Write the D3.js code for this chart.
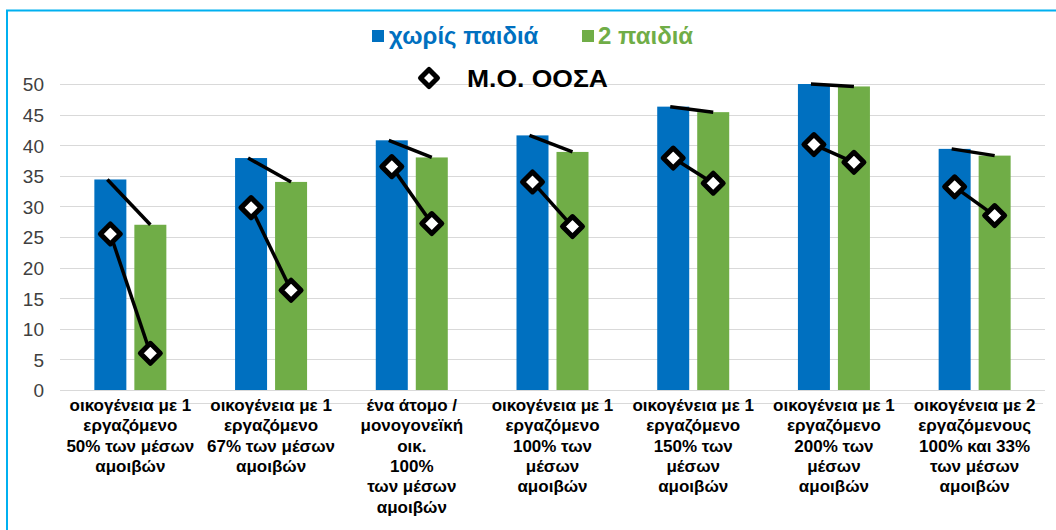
<!DOCTYPE html>
<html><head><meta charset="utf-8">
<script src="https://cdn.jsdelivr.net/npm/d3@7"></script>
<style>
html,body{margin:0;padding:0;background:#fff;}
svg{display:block;font-family:"Liberation Sans",Arial,sans-serif;}
</style></head>
<body>
<svg id="chart" width="1056" height="530"></svg>
<script>
const categories = [
  ["οικογένεια με 1","εργαζόμενο","50% των μέσων","αμοιβών"],
  ["οικογένεια με 1","εργαζόμενο","67% των μέσων","αμοιβών"],
  ["ένα άτομο /","μονογονεϊκή","οικ.","100%","των μέσων","αμοιβών"],
  ["οικογένεια με 1","εργαζόμενο","100% των","μέσων","αμοιβών"],
  ["οικογένεια με 1","εργαζόμενο","150% των","μέσων","αμοιβών"],
  ["οικογένεια με 1","εργαζόμενο","200% των","μέσων","αμοιβών"],
  ["οικογένεια με 2","εργαζόμενους","100% και 33%","των μέσων","αμοιβών"]
];
const seriesNames = ["χωρίς παιδιά", "2 παιδιά"];
const noChildren = [34.4, 37.9, 40.8, 41.6, 46.3, 50.0, 39.4];
const twoChildren = [27.0, 34.0, 38.0, 38.9, 45.4, 49.6, 38.3];
const oecdNoChildren = [25.5, 29.8, 36.5, 34.0, 37.9, 40.1, 33.2];
const oecdTwoChildren = [6.0, 16.3, 27.2, 26.7, 33.8, 37.2, 28.5];
const oecdName = "Μ.Ο. ΟΟΣΑ";
const yTicks = [0,5,10,15,20,25,30,35,40,45,50];

const colors = ["#0070C0", "#70AD47"];
const svg = d3.select("#chart");

// frame
svg.append("path").attr("d","M7,540 L7,10.5 L1070,10.5")
  .attr("fill","none").attr("stroke","#00B0F0").attr("stroke-width",2);

const idx = categories.map((d,i)=>i);
const x0 = d3.scaleBand().domain(idx).range([60,1045]).padding(0);
const step = x0.step();
const groupW = 72;
const x1 = d3.scaleBand().domain([0,1]).range([(step-groupW)/2,(step+groupW)/2]).paddingInner(0.2);
const y = d3.scaleLinear().domain([0,50]).range([390,84]);

// gridlines
svg.append("g").selectAll("line").data(yTicks).join("line")
  .attr("x1",60).attr("x2",1045)
  .attr("y1",d=>Math.round(y(d))+0.5).attr("y2",d=>Math.round(y(d))+0.5)
  .attr("stroke","#d9d9d9").attr("stroke-width",1);
// secondary axis line below
svg.append("line").attr("x1",70).attr("x2",1043).attr("y1",403.5).attr("y2",403.5)
  .attr("stroke","#d9d9d9").attr("stroke-width",1);

// y axis
const yAxis = d3.axisLeft(y).tickValues(yTicks).tickSize(0).tickPadding(0);
const gy = svg.append("g").attr("transform","translate(44,0)").call(yAxis);
gy.select(".domain").remove();
gy.selectAll("text").attr("font-size",19).attr("fill","#404040")
  .attr("font-family","Liberation Sans, Arial, sans-serif").attr("dy","0.36em");

// bars
const series = [noChildren, twoChildren];
series.forEach((vals,s)=>{
  svg.append("g").selectAll("rect").data(vals).join("rect")
    .attr("x",(d,i)=>x0(i)+x1(s))
    .attr("width",x1.bandwidth())
    .attr("y",d=>y(d))
    .attr("height",d=>y(0)-y(d))
    .attr("fill",colors[s]);
});

const cx = (i,s)=> x0(i)+x1(s)+x1.bandwidth()/2;

// top connecting lines
svg.append("g").selectAll("line").data(idx).join("line")
  .attr("x1",i=>cx(i,0)-3).attr("y1",i=>y(noChildren[i]))
  .attr("x2",i=>cx(i,1)).attr("y2",i=>y(twoChildren[i]))
  .attr("stroke","#000").attr("stroke-width",3.5);

// OECD lines
svg.append("g").selectAll("line").data(idx).join("line")
  .attr("x1",i=>cx(i,0)).attr("y1",i=>y(oecdNoChildren[i]))
  .attr("x2",i=>cx(i,1)).attr("y2",i=>y(oecdTwoChildren[i]))
  .attr("stroke","#000").attr("stroke-width",3.5);

const diamond = (r)=>`M0,${-r} L${r},0 L0,${r} L${-r},0 Z`;
const pts = [];
idx.forEach(i=>{ pts.push([cx(i,0),oecdNoChildren[i]]); pts.push([cx(i,1),oecdTwoChildren[i]]); });
svg.append("g").selectAll("path").data(pts).join("path")
  .attr("d",diamond(10))
  .attr("transform",d=>`translate(${d[0]},${y(d[1])})`)
  .attr("fill","#fff").attr("stroke","#000").attr("stroke-width",5).attr("stroke-linejoin","round");

// category labels
const gl = svg.append("g");
categories.forEach((lines,i)=>{
  const t = gl.append("text").attr("text-anchor","middle")
    .attr("font-size",17).attr("font-weight","bold").attr("fill","#000");
  lines.forEach((ln,k)=>{
    t.append("tspan").attr("x",x0(i)+step/2).attr("y",411+k*20.3).text(ln);
  });
});

// legend
const lg = svg.append("g");
lg.append("rect").attr("x",372).attr("y",30).attr("width",12).attr("height",12).attr("fill",colors[0]);
lg.append("text").attr("x",389).attr("y",43.5).attr("font-size",24).attr("font-weight","bold")
  .attr("fill",colors[0]).text(seriesNames[0]);
lg.append("rect").attr("x",582).attr("y",30).attr("width",12).attr("height",12).attr("fill",colors[1]);
lg.append("text").attr("x",598).attr("y",43.5).attr("font-size",24).attr("font-weight","bold")
  .attr("fill",colors[1]).text(seriesNames[1]);
lg.append("path").attr("d",diamond(8.5)).attr("transform","translate(429,78)")
  .attr("fill","#fff").attr("stroke","#000").attr("stroke-width",5).attr("stroke-linejoin","round");
lg.append("text").attr("x",467).attr("y",87).attr("font-size",24).attr("font-weight","bold")
  .attr("textLength",141).attr("lengthAdjust","spacingAndGlyphs")
  .attr("fill","#000").text(oecdName);
</script>
</body></html>
